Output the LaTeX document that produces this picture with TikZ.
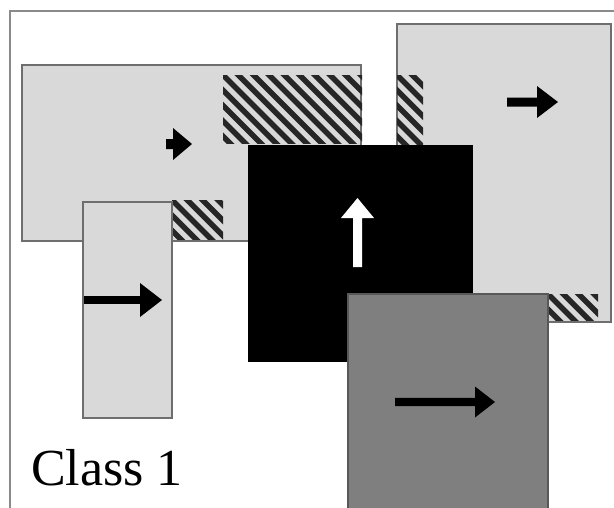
\documentclass[tikz,border=0pt]{standalone}
\usepackage{fontspec}
\setmainfont{Liberation Serif}
\definecolor{panel}{HTML}{D9D9D9}
\definecolor{edge}{HTML}{6E6E6E}
\definecolor{midgray}{HTML}{7F7F7F}
\definecolor{framegray}{HTML}{8A8A8A}
\tikzset{
  panelbox/.style={fill=panel, draw=edge, line width=2pt},
  darkbox/.style={fill=midgray, draw=edge!80!black, line width=1.5pt},
  blackbox/.style={fill=black, draw=none},
  hatchline/.style={line width=5.5pt, black!85},
  solidarrow/.style={fill=black, draw=none},
  lightarrow/.style={fill=white, draw=none},
}
% diagonal hatching inside the box (x0,y0)-(x1,y1)
\newcommand\hatchbox[4]{%
  \begin{scope}
    \clip (#1,#2) rectangle (#3,#4);
    \foreach \k in {-12,...,14}
      \draw[hatchline] ({#1+\k*15.3},#2) ++(-90,-90) -- ++(260,260);
  \end{scope}}
% right-pointing arrow: tail x, head base x, tip x, y, shaft half width, head half height, style
\newcommand\rightarrowshape[7]{%
  \fill[#7] (#1,{#4-#5}) -- (#2,{#4-#5}) -- (#2,{#4-#6}) -- (#3,#4)
    -- (#2,{#4+#6}) -- (#2,{#4+#5}) -- (#1,{#4+#5}) -- cycle;}
% up-pointing arrow: x, tail y, head base y, tip y, shaft half width, head half height, style
\newcommand\uparrowshape[7]{%
  \fill[#7] ({#1-#5},#2) -- ({#1-#5},#3) -- ({#1-#6},#3) -- (#1,#4)
    -- ({#1+#6},#3) -- ({#1+#5},#3) -- ({#1+#5},#2) -- cycle;}
\begin{document}
\begin{tikzpicture}[x=1pt,y=-1pt]
  \useasboundingbox (0,0) rectangle (614,507);
  \fill[white] (0,0) rectangle (614,507);
  \clip (0,0) rectangle (614,507);

  % outer frame
  \draw[framegray, line width=2pt] (10,540) -- (10,11) -- (640,11);

  % wide panel with its hatched corners
  \draw[panelbox] (22,65) rectangle (361,241);
  \hatchbox{223}{75}{362}{143}
  \hatchbox{172}{200}{223}{239}

  % narrow upright panel
  \draw[panelbox] (83,202) rectangle (172,418);

  % tall right panel with its hatched strips
  \draw[panelbox] (397,24) rectangle (611,322);
  \hatchbox{397}{75}{423}{145}
  \hatchbox{548}{294}{598}{320}

  % black square
  \fill[blackbox] (248,145) rectangle (473,362);

  % mid-gray square
  \draw[darkbox] (348,294) rectangle (548,530);

  % motion arrows
  \rightarrowshape{166}{173}{192}{144}{5}{16}{solidarrow}
  \rightarrowshape{507}{537}{558}{102}{4.5}{16}{solidarrow}
  \rightarrowshape{84}{140}{162}{300}{3.8}{17}{solidarrow}
  \rightarrowshape{395}{475}{495}{402}{4.2}{15.5}{solidarrow}
  \uparrowshape{357.5}{267}{218}{198}{4.5}{16.5}{lightarrow}

  % label
  \node[anchor=base west, inner sep=0pt, font=\fontsize{52}{60}\selectfont] (label) at (31,485) {Class 1};
\end{tikzpicture}
\end{document}
